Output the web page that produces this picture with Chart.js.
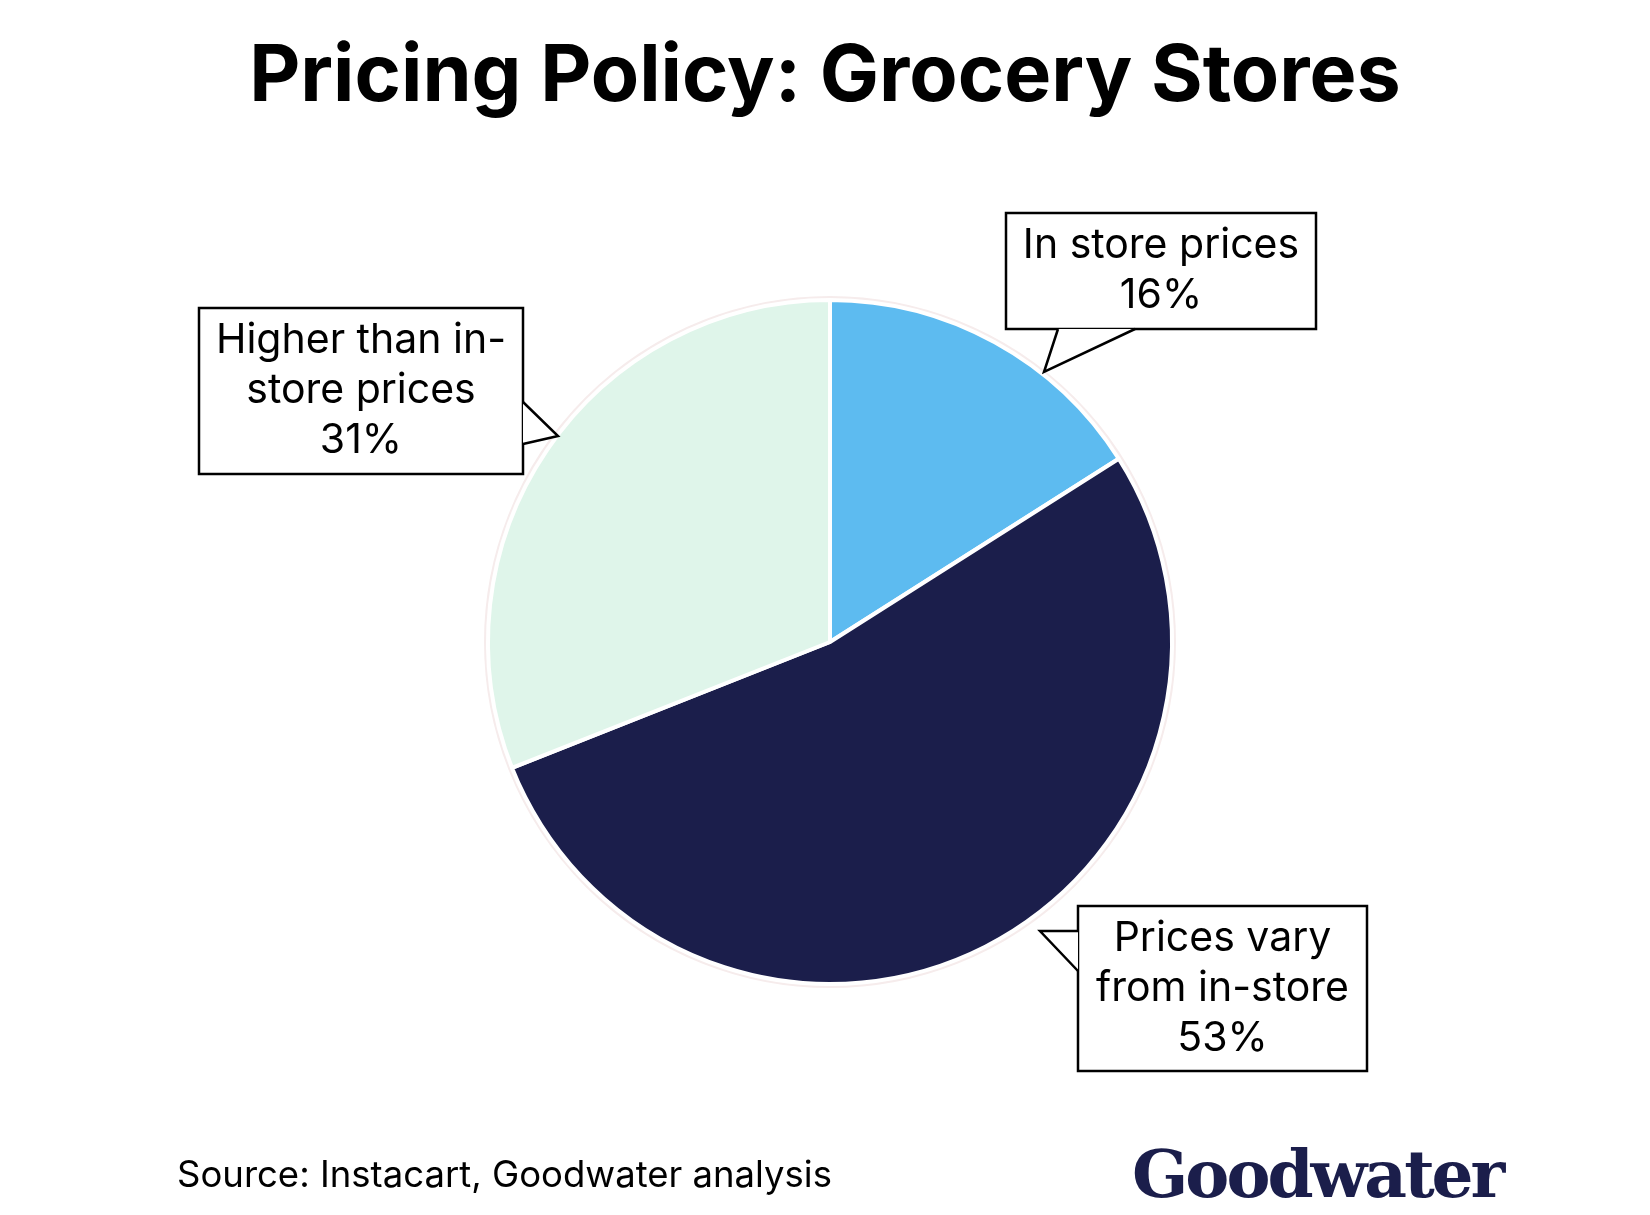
<!DOCTYPE html>
<html><head><meta charset="utf-8">
<script src="https://cdn.jsdelivr.net/npm/chart.js@4"></script>
<style>
body{margin:0;width:1650px;height:1215px;background:#fff;position:relative;overflow:hidden;font-family:Inter,"Noto Sans",sans-serif}
#t{position:absolute;top:24px;left:0;width:1650px;text-align:center;font-weight:700;font-size:79px;color:#000}
#c{position:absolute;left:0;top:0}
#s{position:absolute;left:177px;top:1152px;font-size:36.5px;color:#000}
#l{position:absolute;left:1132px;top:1135px;font-family:"DejaVu Serif","Liberation Serif",serif;font-weight:700;font-size:66px;color:#1b1e4b;letter-spacing:-3px}
</style></head><body>
<div id="t">Pricing Policy: Grocery Stores</div>
<canvas id="c" width="1650" height="1215"></canvas>
<div id="s">Source: Instacart, Goodwater analysis</div>
<div id="l">Goodwater</div>
<script>
const categories=["In store prices","Prices vary from in-store","Higher than in-store prices"];
const values=[16,53,31];
const labelLines=[["In store prices","16%"],["Prices vary","from in-store","53%"],["Higher than in-","store prices","31%"]];
const colors=["#5dbbf0","#1b1e4b","#dff5ea"];
const boxes=[
 {x:1006,y:213,w:310,h:116,ptr:[[1058,329],[1044,372],[1135,329]]},
 {x:1078,y:906,w:289,h:165,ptr:[[1078,931],[1040,931],[1078,971]]},
 {x:199,y:308,w:324,h:166,ptr:[[523,402],[558,436],[523,444]]}
];
const callouts={id:'callouts',afterDraw(ch){const c=ch.ctx;c.save();
 boxes.forEach((b,i)=>{c.fillStyle='#fff';c.strokeStyle='#000';c.lineWidth=2.5;
  c.fillRect(b.x,b.y,b.w,b.h);c.strokeRect(b.x,b.y,b.w,b.h);
  c.beginPath();c.moveTo(...b.ptr[0]);c.lineTo(...b.ptr[1]);c.lineTo(...b.ptr[2]);c.fill();
  c.beginPath();c.moveTo(...b.ptr[0]);c.lineTo(...b.ptr[1]);c.lineTo(...b.ptr[2]);c.stroke();
  c.fillStyle='#000';c.font='41px Inter, "Noto Sans", sans-serif';c.textAlign='center';c.textBaseline='middle';
  const L=labelLines[i],lh=50,y0=b.y+b.h/2-(L.length-1)*lh/2;
  L.forEach((t,j)=>c.fillText(t,b.x+b.w/2,y0+j*lh));});
 c.restore();}};
new Chart(document.getElementById('c'),{type:'pie',
 data:{labels:categories,datasets:[{data:values,backgroundColor:colors,borderColor:'#fff',borderWidth:4}]},
 options:{responsive:false,animation:false,
  layout:{padding:{left:486,top:298,right:1650-1174,bottom:1215-986}},
  plugins:{legend:{display:false},tooltip:{enabled:false}}},
 plugins:[{id:'ring',beforeDatasetsDraw(ch){const m=ch.getDatasetMeta(0).data[0];const c=ch.ctx;c.save();c.beginPath();c.arc(m.x,m.y,m.outerRadius+2,0,Math.PI*2);c.strokeStyle='#f6ecec';c.lineWidth=4;c.stroke();c.restore();}},callouts]});
</script></body></html>
